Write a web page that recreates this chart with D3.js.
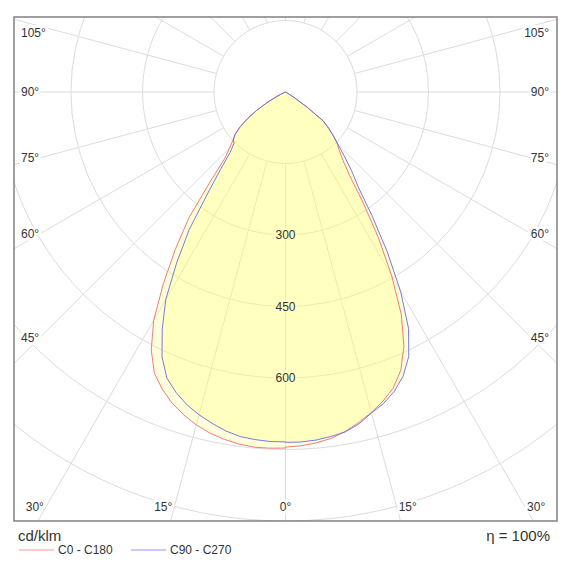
<!DOCTYPE html>
<html>
<head>
<meta charset="utf-8">
<script src="https://cdn.jsdelivr.net/npm/d3@7"></script>
<style>
  body { margin: 0; background: #fff; }
  text { font-family: Arial, "Liberation Sans", sans-serif; }
</style>
</head>
<body>
<div id="chart"></div>
<script>
// gamma angles (deg) and intensities in cd/klm
var gamma = [0, 2.5, 5, 7.5, 10, 12.5, 15, 17.5, 20, 22.5, 25, 27.5, 30, 32.5, 35, 37.5, 40, 42.5, 45, 47.5,
             50, 52.5, 55, 57.5, 60, 62.5, 65, 67.5, 70, 72.5, 75, 77.5, 80, 82.5, 85, 87.5, 90];
var c180 = [747, 748, 748, 745, 740, 733, 723, 710, 695, 675, 651, 610, 553, 477, 403, 333, 246, 188, 166, 150,
            138, 120, 97, 72, 45, 22, 8, 2, 0, 0, 0, 0, 0, 0, 0, 0, 0];
var c0   = [745, 743, 739, 733, 723, 710, 696, 680, 661, 632, 588, 526, 446, 363, 285, 221, 188, 167, 154, 135,
            118, 100, 55, 20, 5, 0, 0, 0, 0, 0, 0, 0, 0, 0, 0, 0, 0];
var c270 = [734, 734, 732, 729, 722, 712, 701, 688, 671, 650, 613, 560, 502, 425, 352, 268, 212, 172, 153, 148,
            138, 120, 97, 72, 45, 22, 8, 2, 0, 0, 0, 0, 0, 0, 0, 0, 0];
var c90  = [735, 735, 733, 729, 724, 713, 697, 685, 668, 645, 612, 559, 483, 397, 316, 250, 216, 183, 156, 137,
            118, 100, 55, 20, 5, 0, 0, 0, 0, 0, 0, 0, 0, 0, 0, 0, 0];

var ringValues = [150, 300, 450, 600, 750, 900];
var ringLabels = [300, 450, 600];
var sideLabels = [105, 90, 75, 60, 45];
var bottomLabels = [-30, -15, 0, 15, 30];
var series = [
    { name: "C0 - C180", left: c180, right: c0, color: "#ef6f6f" },
    { name: "C90 - C270", left: c270, right: c90, color: "#6b6be3" }
];
var unitLabel = "cd/klm";
var effLabel = "\u03b7 = 100%";

var W = 570, H = 570;
var frame = { x0: 14, y0: 17, x1: 557, y1: 521 };
var cx = 285.5, cy = 92;
var rad = Math.PI / 180;

var r = d3.scaleLinear().domain([0, 900]).range([0, 429]);

var svg = d3.select("#chart").append("svg")
    .attr("width", W)
    .attr("height", H);

svg.append("clipPath").attr("id", "frameClip")
    .append("rect")
    .attr("x", frame.x0).attr("y", frame.y0)
    .attr("width", frame.x1 - frame.x0).attr("height", frame.y1 - frame.y0);

var plot = svg.append("g").attr("clip-path", "url(#frameClip)");
var g = plot.append("g").attr("transform", "translate(" + cx + "," + cy + ")");

// spokes every 15 degrees, starting at the inner ring
var spokes = d3.range(0, 360, 15);
g.selectAll(".spoke").data(spokes).enter().append("line")
    .attr("class", "spoke")
    .attr("x1", function (a) { return r(150) * Math.sin(a * rad); })
    .attr("y1", function (a) { return r(150) * Math.cos(a * rad); })
    .attr("x2", function (a) { return r(1300) * Math.sin(a * rad); })
    .attr("y2", function (a) { return r(1300) * Math.cos(a * rad); })
    .style("stroke", "#dcdcdc")
    .style("stroke-width", 1);

g.selectAll(".ring").data(ringValues).enter().append("circle")
    .attr("class", "ring")
    .attr("r", function (d) { return r(d); })
    .style("fill", function (d) { return d === 150 ? "#fff" : "none"; })
    .style("stroke", "#dcdcdc")
    .style("stroke-width", 1);

// build closed outline: left half from 90 down to 0, right half from 0 up to 90
function outline(s) {
    var pts = [];
    for (var i = gamma.length - 1; i >= 0; i--) pts.push([Math.PI + gamma[i] * rad, r(s.left[i])]);
    for (var j = 0; j < gamma.length; j++) pts.push([Math.PI - gamma[j] * rad, r(s.right[j])]);
    return pts;
}
var radial = d3.lineRadial()
    .angle(function (d) { return d[0]; })
    .radius(function (d) { return d[1]; });

g.selectAll(".area").data(series).enter().append("path")
    .attr("class", "area")
    .attr("d", function (s) { return radial(outline(s)) + "Z"; })
    .style("fill", "#ffff70")
    .style("fill-opacity", 0.25)
    .style("stroke", "none");

g.selectAll(".curve").data(series).enter().append("path")
    .attr("class", "curve")
    .attr("d", function (s) { return radial(outline(s)) + "Z"; })
    .style("fill", "none")
    .style("stroke", function (s) { return s.color; })
    .style("stroke-opacity", 0.9)
    .style("stroke-width", 1);

// intensity labels on the vertical axis
g.selectAll(".rlabel").data(ringLabels).enter().append("text")
    .attr("class", "rlabel")
    .attr("x", 0)
    .attr("y", function (d) { return r(d); })
    .attr("dy", "0.35em")
    .attr("text-anchor", "middle")
    .style("font-size", "12px")
    .style("fill", "#333")
    .style("stroke", "#ffffc4")
    .style("stroke-width", 4)
    .style("paint-order", "stroke")
    .text(function (d) { return d; });

// angle labels along the sides
function sideY(a) {
    var y = cy + (cx - 40) * Math.cos(a * rad) / Math.sin(a * rad);
    return Math.max(y, 33);
}
[-1, 1].forEach(function (side) {
    svg.selectAll(".alabel" + side).data(sideLabels).enter().append("text")
        .attr("x", side < 0 ? 21 : 549)
        .attr("y", function (a) { return sideY(a); })
        .attr("dy", "0.35em")
        .attr("text-anchor", side < 0 ? "start" : "end")
        .style("font-size", "12px")
        .style("fill", "#333")
        .style("stroke", "#fff")
        .style("stroke-width", 6)
        .style("stroke-linejoin", "round")
        .style("paint-order", "stroke")
        .text(function (a) { return a + "\u00b0"; });
});

svg.selectAll(".blabel").data(bottomLabels).enter().append("text")
    .attr("x", function (a) {
        var x = cx + (507 - cy) * Math.tan(a * rad);
        return a < 0 ? x - 2 : a > 0 ? x + 2 : x;
    })
    .attr("y", 507)
    .attr("dy", "0.35em")
    .attr("text-anchor", function (a) { return a < 0 ? "end" : a > 0 ? "start" : "middle"; })
    .style("font-size", "12px")
    .style("fill", "#333")
    .style("stroke", "#fff")
    .style("stroke-width", 6)
    .style("stroke-linejoin", "round")
    .style("paint-order", "stroke")
    .text(function (a) { return Math.abs(a) + "\u00b0"; });

// frame
svg.append("rect")
    .attr("x", frame.x0).attr("y", frame.y0)
    .attr("width", frame.x1 - frame.x0).attr("height", frame.y1 - frame.y0)
    .style("fill", "none")
    .style("stroke", "#808080")
    .style("stroke-width", 1.5);

// footer
svg.append("text")
    .attr("x", 18).attr("y", 536).attr("dy", "0.35em")
    .style("font-size", "15px").style("fill", "#333")
    .text(unitLabel);

svg.append("text")
    .attr("x", 550).attr("y", 536).attr("dy", "0.35em")
    .attr("text-anchor", "end")
    .style("font-size", "15px").style("fill", "#333")
    .text(effLabel);

var legend = svg.selectAll(".legend").data(series).enter().append("g")
    .attr("class", "legend")
    .attr("transform", function (d, i) { return "translate(" + (19 + i * 112) + ",550)"; });
legend.append("line")
    .attr("x1", 0).attr("x2", 35)
    .style("stroke", function (d) { return d.color; })
    .style("stroke-opacity", 0.7)
    .style("stroke-width", 1);
legend.append("text")
    .attr("x", 39).attr("dy", "0.35em")
    .style("font-size", "12px").style("fill", "#333")
    .text(function (d) { return d.name; });
</script>
</body>
</html>
